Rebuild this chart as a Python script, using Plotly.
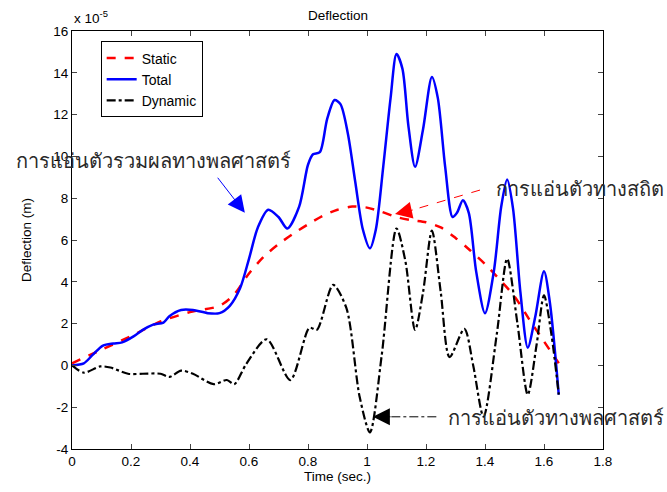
import plotly.graph_objects as go

# ---- data (deflection in units of 1e-5 m) ----
t_static = [0, 0.1, 0.2, 0.3, 0.4, 0.5, 0.55, 0.6, 0.65, 0.7, 0.75, 0.8, 0.85, 0.9, 0.95,
            1.0, 1.05, 1.1, 1.15, 1.2, 1.25, 1.3, 1.35, 1.4, 1.45, 1.5, 1.55, 1.6, 1.65]
y_static = [0.1, 0.75, 1.4, 2.1, 2.55, 2.85, 3.4, 4.4, 5.2, 5.8, 6.3, 6.75, 7.15, 7.45, 7.6,
            7.55, 7.35, 7.1, 6.95, 6.85, 6.6, 6.1, 5.5, 4.85, 4.1, 3.3, 2.2, 1.15, 0.1]

t_total = [0, 0.04, 0.07, 0.105, 0.14, 0.17, 0.21, 0.24, 0.275, 0.31, 0.33, 0.37, 0.41, 0.46,
           0.50, 0.535, 0.57, 0.60, 0.63, 0.665, 0.70, 0.73, 0.77, 0.80, 0.817, 0.84, 0.865,
           0.89, 0.91, 0.935, 0.96, 0.986, 1.01, 1.03, 1.055, 1.08, 1.10, 1.12, 1.14, 1.163,
           1.19, 1.22, 1.24, 1.265, 1.29, 1.305, 1.325, 1.345, 1.37, 1.40, 1.43, 1.455, 1.475,
           1.495, 1.52, 1.545, 1.57, 1.60, 1.62, 1.65]
y_total = [0, 0.1, 0.5, 0.95, 1.05, 1.1, 1.4, 1.7, 1.95, 2.05, 2.35, 2.65, 2.65, 2.5,
           2.5, 2.85, 3.7, 5.1, 6.6, 7.45, 7.1, 6.55, 7.6, 9.6, 10.1, 10.2, 11.8,
           12.7, 12.5, 11.1, 8.8, 6.5, 5.6, 6.5, 9.5, 12.8, 14.9, 14.2, 11.5, 9.5,
           11.3, 13.8, 12.8, 9.5, 7.1, 7.3, 7.9, 7.3, 4.5, 2.5, 4.5, 7.6, 8.9,
           7.5, 3.5, 0.85, 2.3, 4.5, 3.0, -1.4]

t_dyn = [0, 0.04, 0.095, 0.13, 0.19, 0.24, 0.3, 0.33, 0.37, 0.41, 0.48, 0.525, 0.55, 0.59,
         0.66, 0.74, 0.805, 0.83, 0.885, 0.93, 0.975, 1.01, 1.05, 1.10, 1.13, 1.163, 1.19,
         1.22, 1.25, 1.28, 1.33, 1.36, 1.395, 1.44, 1.475, 1.51, 1.545, 1.575, 1.60, 1.625, 1.65]
y_dyn = [0, -0.35, -0.05, -0.1, -0.4, -0.4, -0.4, -0.55, -0.25, -0.4, -0.9, -0.7, -0.9, 0.05,
         1.25, -0.7, 1.8, 1.7, 3.85, 2.75, -1.5, -3.2, 0.5, 6.55, 5.0, 1.7, 3.5,
         6.45, 3.5, 0.4, 1.75, 0.0, -2.45, 1.5, 5.1, 2.0, -1.4, 1.0, 3.35, 1.5, -1.4]

x_ticks = [0, 0.2, 0.4, 0.6, 0.8, 1, 1.2, 1.4, 1.6, 1.8]
y_ticks = [-4, -2, 0, 2, 4, 6, 8, 10, 12, 14, 16]

AX_FONT = dict(family="Liberation Sans, Arial, sans-serif", size=13.5, color="black")
LEG_FONT = dict(family="Liberation Sans, Arial, sans-serif", size=14, color="black")
TH_FONT = dict(family="Noto Sans, DejaVu Sans, sans-serif", size=20, color="#2a2a2a")

fig = go.Figure()
fig.add_trace(go.Scatter(x=t_static, y=y_static, name="Static", mode="lines",
                         line=dict(color="red", width=2.5, dash="dash", shape="spline", smoothing=0.8)))
fig.add_trace(go.Scatter(x=t_total, y=y_total, name="Total", mode="lines",
                         line=dict(color="blue", width=2.5, shape="spline", smoothing=0.8)))
fig.add_trace(go.Scatter(x=t_dyn, y=y_dyn, name="Dynamic", mode="lines",
                         line=dict(color="black", width=2.2, dash="dashdot", shape="spline", smoothing=0.8)))

ARW = dict(showarrow=True, arrowhead=2, arrowsize=3.4, arrowwidth=1,
           xref="x", yref="y", axref="x", ayref="y", text="")

annotations = [
    dict(text="Deflection", x=0.5, y=1, xref="paper", yref="paper", xanchor="center",
         yanchor="bottom", yshift=6, showarrow=False, font=AX_FONT),
    dict(text="x 10<sup>-5</sup>", x=0, y=1, xref="paper", yref="paper", xanchor="left",
         yanchor="bottom", yshift=3, showarrow=False, font=AX_FONT),
    # labels
    dict(text="การแอ่นตัวรวมผลทางพลศาสตร์", x=0.275, y=9.8, xref="x", yref="y",
         showarrow=False, xanchor="center", yanchor="middle", font=TH_FONT),
    dict(text="การแอ่นตัวทางสถิต", x=1.43, y=8.45, xref="x", yref="y",
         showarrow=False, xanchor="left", yanchor="middle", font=TH_FONT),
    dict(text="การแอ่นตัวทางพลศาสตร์", x=1.268, y=-2.5, xref="x", yref="y",
         showarrow=False, xanchor="left", yanchor="middle", font=TH_FONT),
    # arrows
    dict(x=0.586, y=7.3, ax=0.49, ay=9.05, arrowcolor="blue", **ARW),
    dict(x=1.095, y=7.25, ax=1.16, ay=7.45, arrowcolor="red", **ARW),
    dict(x=1.02, y=-2.46, ax=1.085, ay=-2.46, arrowcolor="black", **ARW),
]

shapes = [
    dict(type="line", xref="x", yref="y", x0=1.383, y0=8.39, x1=1.15, y1=7.42,
         line=dict(color="red", width=1, dash="dash")),
    dict(type="line", xref="x", yref="y", x0=1.235, y0=-2.46, x1=1.08, y1=-2.46,
         line=dict(color="black", width=1, dash="dashdot")),
]

fig.update_layout(
    width=667, height=492,
    margin=dict(l=72, r=64, t=31, b=39),
    paper_bgcolor="white", plot_bgcolor="white",
    font=AX_FONT,
    showlegend=True,
    legend=dict(x=0.054, y=0.975, xanchor="left", yanchor="top",
                bordercolor="black", borderwidth=1, bgcolor="white",
                font=LEG_FONT, tracegroupgap=0, itemwidth=30,
                entrywidth=120, entrywidthmode="pixels"),
    xaxis=dict(range=[0, 1.8], tickvals=x_ticks, ticktext=[str(v) for v in x_ticks],
               ticks="inside", ticklen=5, showline=True, linecolor="black", linewidth=1,
               mirror="ticks", showgrid=False, zeroline=False,
               title=dict(text="Time (sec.)", font=AX_FONT, standoff=1)),
    yaxis=dict(range=[-4, 16], tickvals=y_ticks, ticktext=[str(v) for v in y_ticks],
               ticks="inside", ticklen=5, showline=True, linecolor="black", linewidth=1,
               mirror="ticks", showgrid=False, zeroline=False,
               title=dict(text="Deflection (m)", font=AX_FONT, standoff=18)),
    annotations=annotations,
    shapes=shapes,
)

fig.write_html("out.html")
